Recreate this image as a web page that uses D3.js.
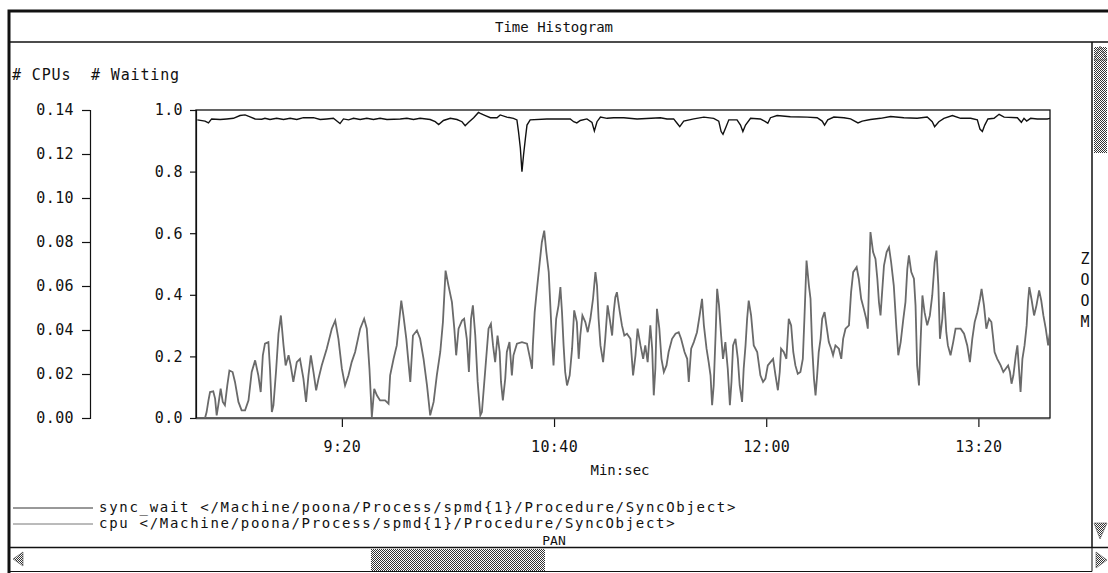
<!DOCTYPE html>
<html>
<head>
<meta charset="utf-8">
<title>Time Histogram</title>
<script src="https://cdn.jsdelivr.net/npm/d3@7/dist/d3.min.js"></script>
<style>
  html, body { margin: 0; padding: 0; background: #fff; }
  svg { display: block; }
  text { font-family: "DejaVu Sans Mono", "Liberation Mono", monospace; fill: #111; white-space: pre; }
</style>
</head>
<body>
<svg id="hist"></svg>
<script>
// time in seconds
var timeDomain = [505, 827];
var xTickSecs = [560, 640, 720, 800];
var cpuTicks = [0, 0.02, 0.04, 0.06, 0.08, 0.10, 0.12, 0.14];
var waitTicks = [0, 0.2, 0.4, 0.6, 0.8, 1.0];
var seriesNames = [
  "sync_wait </Machine/poona/Process/spmd{1}/Procedure/SyncObject>",
  "cpu </Machine/poona/Process/spmd{1}/Procedure/SyncObject>"
];

// # Waiting (0..1)
var syncWait = [
  [505.5,0.968],[508.4,0.964],[509.7,0.958],[510.9,0.971],[514.1,0.969],[516.6,0.971],[519.1,0.973],[521.6,0.982],
  [523.5,0.984],[525.4,0.978],[527.3,0.971],[529.8,0.970],[531.0,0.973],[532.9,0.969],[535.4,0.973],[538.0,0.969],
  [540.5,0.973],[543.0,0.969],[545.5,0.975],[549.3,0.975],[551.8,0.969],[554.3,0.971],[556.8,0.973],[558.7,0.960],
  [559.3,0.956],[560.6,0.971],[562.5,0.968],[564.4,0.973],[566.9,0.969],[569.4,0.973],[571.9,0.969],[574.4,0.973],
  [577.0,0.969],[582.0,0.971],[584.5,0.973],[587.0,0.969],[589.5,0.973],[593.3,0.969],[595.2,0.962],[596.5,0.953],
  [598.3,0.966],[600.9,0.973],[603.4,0.969],[605.3,0.962],[606.5,0.949],[607.8,0.960],[609.7,0.975],[611.5,0.992],
  [612.2,0.989],[614.1,0.982],[616.0,0.975],[618.5,0.975],[619.7,0.984],[622.2,0.977],[624.7,0.973],[626.0,0.968],
  [626.6,0.930],[627.3,0.876],[627.9,0.800],[628.5,0.854],[629.2,0.908],[629.8,0.951],[631.0,0.968],[637.3,0.971],
  [646.1,0.971],[647.4,0.962],[648.6,0.958],[649.9,0.966],[652.4,0.971],[654.3,0.960],[655.2,0.932],[656.2,0.962],
  [657.5,0.977],[660.0,0.973],[662.5,0.975],[666.3,0.975],[671.3,0.971],[680.1,0.975],[682.6,0.971],[685.1,0.971],
  [686.4,0.957],[687.4,0.946],[688.9,0.964],[692.7,0.971],[696.5,0.977],[700.2,0.973],[702.1,0.964],[703.0,0.930],
  [703.7,0.921],[704.6,0.940],[705.9,0.968],[709.0,0.968],[710.3,0.951],[711.2,0.930],[712.2,0.951],[714.1,0.973],
  [717.8,0.971],[719.7,0.962],[720.6,0.957],[721.6,0.975],[724.1,0.982],[729.1,0.978],[735.4,0.977],[739.2,0.975],
  [741.1,0.964],[742.0,0.951],[743.2,0.968],[745.5,0.977],[749.3,0.975],[751.8,0.971],[754.6,0.958],[756.2,0.964],
  [759.3,0.969],[763.1,0.973],[766.9,0.979],[771.9,0.975],[776.9,0.973],[780.7,0.977],[782.6,0.962],[783.5,0.946],
  [785.1,0.962],[787.0,0.973],[790.2,0.982],[793.3,0.973],[797.1,0.973],[799.6,0.968],[800.6,0.938],[801.5,0.930],
  [802.4,0.951],[803.6,0.971],[805.9,0.973],[807.8,0.986],[809.7,0.977],[814.7,0.975],[816.2,0.960],[817.2,0.973],
  [818.2,0.964],[819.7,0.973],[822.2,0.971],[826.0,0.971],[827.0,0.973]
];

// # CPUs (0..0.14)
var cpu = [
  [508.4,0],[509.0,0.0027],[509.7,0.0080],[510.3,0.0118],[511.5,0.0121],[512.2,0.0088],[512.8,0.0012],[513.4,0.0058],
  [514.3,0.0133],[515.1,0.0073],[515.9,0.0058],[516.8,0.0148],[517.6,0.0216],[518.8,0.0209],[519.7,0.0164],[521.0,0.0073],
  [522.2,0.0035],[523.5,0.0035],[524.8,0.0080],[526.0,0.0209],[527.3,0.0262],[528.5,0.0194],[529.4,0.0118],[530.2,0.0285],
  [531.0,0.0338],[532.3,0.0345],[532.9,0.0224],[533.6,0.0027],[534.2,0.0058],[535.2,0.0216],[536.1,0.0383],[537.0,0.0466],
  [538.0,0.0330],[538.8,0.0239],[539.9,0.0285],[540.7,0.0239],[541.7,0.0164],[543.0,0.0254],[544.2,0.0269],[545.5,0.0179],
  [546.5,0.0073],[547.4,0.0194],[548.3,0.0285],[549.3,0.0209],[550.3,0.0126],[551.2,0.0179],[552.4,0.0239],[554.3,0.0315],
  [556.2,0.0406],[557.5,0.0443],[558.7,0.0360],[560.0,0.0224],[561.2,0.0148],[562.5,0.0194],[563.7,0.0254],[565.0,0.0300],
  [566.9,0.0406],[568.4,0.0451],[569.4,0.0406],[570.4,0.0224],[571.3,0.0005],[572.2,0.0133],[573.2,0.0103],[574.4,0.0080],
  [576.3,0.0080],[577.6,0.0065],[578.2,0.0194],[579.5,0.0269],[580.7,0.0330],[581.7,0.0451],[582.4,0.0534],[583.2,0.0466],
  [584.3,0.0360],[585.1,0.0254],[585.8,0.0164],[586.8,0.0375],[588.3,0.0398],[589.5,0.0360],[590.8,0.0269],[592.1,0.0148],
  [593.3,0.0012],[594.6,0.0073],[595.8,0.0194],[597.1,0.0300],[598.1,0.0436],[599.1,0.0670],[600.2,0.0602],[601.5,0.0527],
  [602.4,0.0406],[603.1,0.0285],[604.0,0.0406],[605.3,0.0443],[606.1,0.0451],[607.1,0.0360],[607.9,0.0209],[608.7,0.0451],
  [609.4,0.0512],[610.3,0.0375],[611.2,0.0164],[612.2,0.0012],[612.8,0.0027],[614.1,0.0224],[615.3,0.0406],[616.2,0.0428],
  [617.0,0.0330],[617.8,0.0254],[618.7,0.0375],[619.5,0.0300],[620.0,0.0164],[620.7,0.0080],[621.6,0.0179],[622.2,0.0300],
  [623.2,0.0345],[624.1,0.0194],[624.7,0.0285],[626.0,0.0338],[627.9,0.0345],[629.8,0.0338],[631.0,0.0269],[631.7,0.0224],
  [632.0,0.0330],[632.7,0.0481],[633.5,0.0580],[634.6,0.0708],[635.4,0.0799],[636.3,0.0852],[637.1,0.0754],[638.0,0.0663],
  [638.6,0.0512],[639.2,0.0360],[639.8,0.0239],[640.8,0.0451],[641.7,0.0512],[642.4,0.0595],[643.0,0.0481],[643.6,0.0330],
  [644.2,0.0209],[644.9,0.0148],[645.9,0.0194],[646.8,0.0315],[647.6,0.0489],[648.6,0.0436],[649.3,0.0269],[649.9,0.0375],
  [650.7,0.0466],[651.8,0.0436],[652.7,0.0390],[653.7,0.0451],[654.7,0.0542],[655.6,0.0663],[656.2,0.0602],[656.8,0.0451],
  [657.5,0.0330],[658.5,0.0254],[659.3,0.0360],[660.2,0.0512],[661.0,0.0451],[661.9,0.0375],[662.5,0.0481],[663.1,0.0549],
  [663.7,0.0572],[664.8,0.0481],[665.6,0.0421],[666.5,0.0375],[667.5,0.0383],[668.8,0.0360],[669.8,0.0194],[670.7,0.0285],
  [671.5,0.0406],[672.6,0.0330],[673.6,0.0269],[674.4,0.0330],[675.3,0.0254],[676.3,0.0421],[677.0,0.0315],[677.6,0.0103],
  [678.2,0.0224],[678.8,0.0496],[679.7,0.0406],[680.5,0.0269],[681.4,0.0209],[682.4,0.0239],[683.2,0.0300],[684.5,0.0360],
  [685.8,0.0383],[687.0,0.0390],[687.9,0.0360],[689.2,0.0300],[690.2,0.0269],[690.8,0.0164],[691.7,0.0315],[692.7,0.0345],
  [693.9,0.0390],[694.9,0.0466],[695.8,0.0542],[696.5,0.0421],[697.5,0.0315],[698.3,0.0254],[699.0,0.0194],[699.6,0.0058],
  [700.2,0.0148],[700.9,0.0375],[701.5,0.0587],[702.2,0.0512],[703.0,0.0375],[703.7,0.0269],[704.6,0.0345],[705.5,0.0224],
  [706.3,0.0058],[706.9,0.0164],[707.5,0.0330],[708.4,0.0360],[709.3,0.0269],[710.0,0.0148],[710.9,0.0073],[711.5,0.0224],
  [712.2,0.0330],[712.8,0.0451],[713.4,0.0534],[714.3,0.0466],[715.3,0.0330],[716.6,0.0300],[717.8,0.0194],[718.8,0.0164],
  [719.7,0.0179],[720.6,0.0239],[721.6,0.0254],[722.6,0.0269],[723.5,0.0194],[724.4,0.0126],[725.1,0.0209],[725.6,0.0315],
  [726.6,0.0300],[727.6,0.0269],[728.5,0.0451],[729.4,0.0421],[730.2,0.0300],[731.0,0.0239],[731.9,0.0201],[732.9,0.0209],
  [733.8,0.0269],[734.4,0.0451],[735.2,0.0716],[736.1,0.0602],[736.7,0.0542],[737.3,0.0330],[738.0,0.0179],[738.6,0.0103],
  [739.2,0.0194],[739.8,0.0300],[740.5,0.0360],[741.1,0.0451],[742.0,0.0481],[742.7,0.0421],[743.6,0.0345],[744.5,0.0315],
  [745.2,0.0285],[746.1,0.0330],[747.4,0.0315],[748.3,0.0269],[749.0,0.0360],[749.9,0.0406],[751.2,0.0421],[752.0,0.0572],
  [752.8,0.0663],[754.1,0.0686],[754.9,0.0633],[755.8,0.0542],[756.8,0.0496],[757.7,0.0451],[758.3,0.0406],[759.0,0.0723],
  [759.3,0.0845],[760.3,0.0754],[761.2,0.0723],[761.9,0.0633],[762.5,0.0527],[763.1,0.0466],[763.7,0.0572],[764.4,0.0693],
  [765.4,0.0754],[766.3,0.0776],[767.1,0.0708],[768.1,0.0602],[769.1,0.0406],[769.8,0.0285],[770.7,0.0345],[771.7,0.0451],
  [772.5,0.0527],[773.2,0.0678],[773.8,0.0739],[774.7,0.0663],[775.7,0.0633],[776.3,0.0512],[776.9,0.0239],[777.6,0.0148],
  [778.2,0.0345],[778.9,0.0557],[779.7,0.0481],[780.7,0.0421],[781.7,0.0466],[782.6,0.0557],[783.5,0.0708],[784.2,0.0761],
  [784.9,0.0602],[785.5,0.0360],[786.4,0.0451],[787.0,0.0572],[787.9,0.0390],[788.5,0.0330],[789.5,0.0285],[790.5,0.0345],
  [791.4,0.0406],[793.3,0.0406],[794.6,0.0383],[795.8,0.0330],[796.8,0.0254],[797.7,0.0360],[798.6,0.0436],[799.6,0.0481],
  [800.6,0.0542],[801.2,0.0587],[802.1,0.0512],[803.0,0.0406],[804.0,0.0451],[804.9,0.0436],[805.6,0.0360],[806.1,0.0300],
  [807.1,0.0269],[808.4,0.0239],[809.4,0.0209],[810.3,0.0224],[811.2,0.0239],[811.9,0.0209],[812.5,0.0156],[813.2,0.0194],
  [814.1,0.0285],[814.7,0.0330],[815.3,0.0224],[815.9,0.0118],[816.6,0.0269],[817.4,0.0330],[818.2,0.0421],[818.7,0.0527],
  [819.2,0.0595],[820.0,0.0542],[821.0,0.0466],[821.9,0.0512],[822.9,0.0580],[823.7,0.0534],[824.5,0.0466],[825.4,0.0406],
  [826.3,0.0330],[827.0,0.0390]
];

(function () {
  var W = 1108, H = 573;
  var plot = { left: 196, right: 1050, top: 110, bottom: 418 };
  var FONT = '"DejaVu Sans Mono", "Liberation Mono", monospace';

  var svg = d3.select("#hist").attr("width", W).attr("height", H);

  // 50% dither like the old X11 stipple
  var pat = svg.append("defs").append("pattern")
    .attr("id", "stip")
    .attr("width", 2).attr("height", 2)
    .attr("patternUnits", "userSpaceOnUse");
  pat.append("rect").attr("width", 2).attr("height", 2).attr("fill", "#fff");
  pat.append("rect").attr("width", 1).attr("height", 1).attr("fill", "#333");
  pat.append("rect").attr("x", 1).attr("y", 1).attr("width", 1).attr("height", 1).attr("fill", "#333");

  svg.append("rect").attr("width", W).attr("height", H).attr("fill", "#fff");

  // window frame
  var frame = svg.append("g").attr("stroke", "#111").attr("fill", "none");
  frame.append("path").attr("stroke-width", 3).attr("d", "M9,573V11H1108");
  frame.append("path").attr("stroke-width", 1.5).attr("d", "M10,42H1108");
  frame.append("path").attr("stroke-width", 1.5).attr("d", "M1092,42V548");
  frame.append("path").attr("stroke-width", 1.5).attr("d", "M10,547.5H1108");
  frame.append("path").attr("stroke-width", 1).attr("d", "M10,571.5H1092V548");

  svg.append("text")
    .attr("x", 554).attr("y", 32)
    .attr("text-anchor", "middle")
    .style("font-size", "14px")
    .text("Time Histogram");

  svg.append("text")
    .attr("x", 12).attr("y", 80)
    .style("font-size", "15px")
    .style("letter-spacing", "0.85px")
    .text("# CPUs  # Waiting");

  // scrollbars
  svg.append("rect").attr("x", 1094).attr("y", 47).attr("width", 13).attr("height", 106).attr("fill", "url(#stip)");
  svg.append("path").attr("d", "M1100,46L1107,60H1094Z").attr("fill", "url(#stip)").attr("stroke", "#555").attr("stroke-width", 0.6);
  svg.append("path").attr("d", "M1100,539L1107,523H1094Z").attr("fill", "url(#stip)").attr("stroke", "#555").attr("stroke-width", 0.6);
  svg.append("rect").attr("x", 371).attr("y", 549).attr("width", 174).attr("height", 22).attr("fill", "url(#stip)");
  svg.append("path").attr("d", "M13,559L23,552V566Z").attr("fill", "url(#stip)").attr("stroke", "#555").attr("stroke-width", 0.6);
  svg.append("path").attr("d", "M1107,560L1096,552V568Z").attr("fill", "url(#stip)").attr("stroke", "#555").attr("stroke-width", 0.6);

  svg.append("text")
    .attr("x", 554).attr("y", 545)
    .attr("text-anchor", "middle")
    .style("font-size", "13px")
    .text("PAN");

  svg.append("g")
    .selectAll("text")
    .data("ZOOM".split(""))
    .join("text")
    .attr("x", 1085)
    .attr("y", function (d, i) { return 264 + i * 21; })
    .attr("text-anchor", "middle")
    .style("font-size", "15px")
    .text(function (d) { return d; });

  var x = d3.scaleLinear().domain(timeDomain).range([plot.left, plot.right]);
  var yWait = d3.scaleLinear().domain([0, 1]).range([plot.bottom, plot.top]);
  var yCpu = d3.scaleLinear().domain([0, 0.14]).range([plot.bottom, plot.top]);

  function styleAxis(g) {
    g.selectAll("path, line").attr("stroke", "#111").attr("stroke-width", 1.2);
    g.selectAll("text")
      .attr("fill", "#111")
      .style("font-family", FONT)
      .style("font-size", "15px")
      .style("letter-spacing", "0.4px");
  }

  svg.append("g")
    .attr("transform", "translate(90,0)")
    .call(d3.axisLeft(yCpu).tickValues(cpuTicks).tickSize(8).tickPadding(8).tickFormat(d3.format(".2f")))
    .call(styleAxis);

  svg.append("g")
    .attr("transform", "translate(" + plot.left + ",0)")
    .call(d3.axisLeft(yWait).tickValues(waitTicks).tickSize(6).tickPadding(7).tickFormat(d3.format(".1f")))
    .call(styleAxis);

  var xAxis = svg.append("g")
    .attr("transform", "translate(0," + plot.bottom + ")")
    .call(d3.axisBottom(x).tickValues(xTickSecs).tickSizeOuter(0).tickSize(9).tickPadding(14)
      .tickFormat(function (s) { return Math.floor(s / 60) + ":" + d3.format("02d")(s % 60); }))
    .call(styleAxis);
  xAxis.select(".domain").remove();

  svg.append("text")
    .attr("x", 620).attr("y", 475)
    .attr("text-anchor", "middle")
    .style("font-size", "14px")
    .text("Min:sec");

  svg.append("rect")
    .attr("x", plot.left).attr("y", plot.top)
    .attr("width", plot.right - plot.left).attr("height", plot.bottom - plot.top)
    .attr("fill", "none").attr("stroke", "#111").attr("stroke-width", 1.3);
  svg.append("line")
    .attr("x1", plot.left).attr("x2", plot.right)
    .attr("y1", plot.bottom + 0.8).attr("y2", plot.bottom + 0.8)
    .attr("stroke", "#555").attr("stroke-width", 1);

  var clip = svg.append("clipPath").attr("id", "plotclip");
  clip.append("rect")
    .attr("x", plot.left).attr("y", plot.top - 2)
    .attr("width", plot.right - plot.left).attr("height", plot.bottom - plot.top + 4);

  var lineCpu = d3.line()
    .x(function (d) { return x(d[0]); })
    .y(function (d) { return yCpu(d[1]); });
  var lineWait = d3.line()
    .x(function (d) { return x(d[0]); })
    .y(function (d) { return yWait(d[1]); });

  var lines = svg.append("g").attr("clip-path", "url(#plotclip)").attr("fill", "none");
  lines.append("path")
    .datum(cpu)
    .attr("stroke", "#6a6a6a")
    .attr("stroke-width", 1.8)
    .attr("stroke-linejoin", "miter")
    .attr("d", lineCpu);
  lines.append("path")
    .datum(syncWait)
    .attr("stroke", "#111")
    .attr("stroke-width", 1.4)
    .attr("d", lineWait);

  // legend
  var legendColors = ["#333", "#777"];
  var leg = svg.append("g")
    .selectAll("g")
    .data(seriesNames)
    .join("g")
    .attr("transform", function (d, i) { return "translate(0," + (508 + i * 16) + ")"; });
  leg.append("line")
    .attr("x1", 13).attr("x2", 93)
    .attr("stroke", function (d, i) { return legendColors[i]; })
    .attr("stroke-width", 1);
  leg.append("text")
    .attr("x", 99).attr("dy", "0.32em")
    .style("font-size", "14px")
    .style("letter-spacing", "1.7px")
    .text(function (d) { return d; });
})();
</script>
</body>
</html>
